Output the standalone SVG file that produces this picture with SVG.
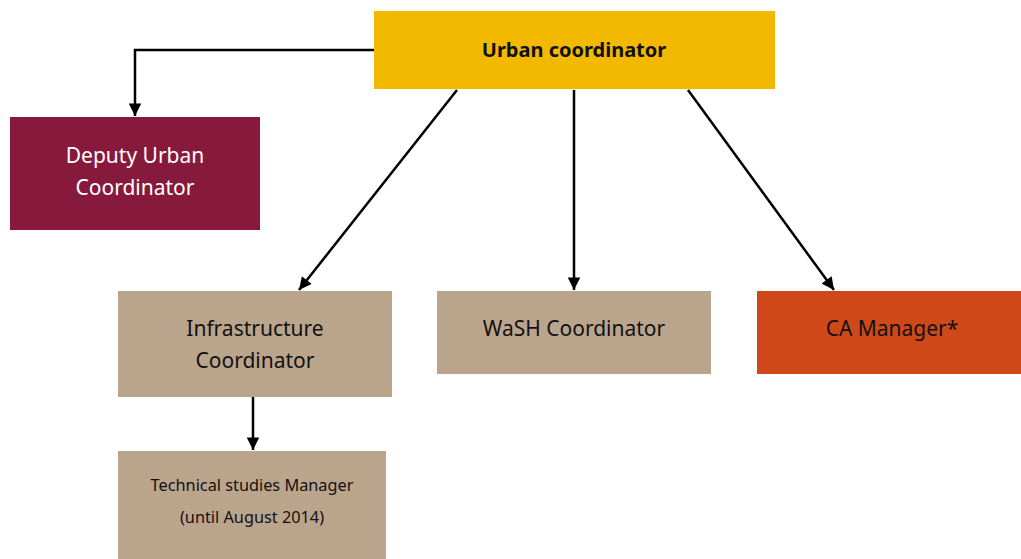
<svg xmlns="http://www.w3.org/2000/svg" width="1021" height="559" viewBox="0 0 1021 559">
<style>
.t{font-family:"Noto Sans","Open Sans","DejaVu Sans",sans-serif;font-size:21px;text-anchor:middle;fill:#111}
.w{fill:#fff}
.b{font-weight:bold;font-size:20px}
.s{font-size:16.3px}
.c{stroke:#000;stroke-width:2.5;fill:none}
</style>
<defs>
<marker id="a" viewBox="0 0 10 10" refX="10" refY="5" markerWidth="5.5" markerHeight="5" markerUnits="strokeWidth" orient="auto">
<path d="M0,0 L10,5 L0,10 Z" fill="#000"/>
</marker>
</defs>
<rect width="1021" height="559" fill="#fff"/>
<g id="connectors">
<path class="c" d="M374,50 H135 V116" marker-end="url(#a)"/>
<path class="c" d="M457,90 L299,290" marker-end="url(#a)"/>
<path class="c" d="M574,90 V290" marker-end="url(#a)"/>
<path class="c" d="M688,90 L834,290" marker-end="url(#a)"/>
<path class="c" d="M253,397 V450" marker-end="url(#a)"/>
</g>
<g id="urban">
<rect x="374" y="11" width="401" height="78" fill="#F2B900"/>
<text class="t b" x="574" y="57">Urban coordinator</text>
</g>
<g id="deputy">
<rect x="10" y="117" width="250" height="113" fill="#87193D"/>
<text class="t w" x="135" y="163">Deputy Urban</text>
<text class="t w" x="135" y="195">Coordinator</text>
</g>
<g id="infra">
<rect x="118" y="291" width="274" height="106" fill="#BBA48C"/>
<text class="t" x="255" y="336">Infrastructure</text>
<text class="t" x="255" y="368">Coordinator</text>
</g>
<g id="wash">
<rect x="437" y="291" width="274" height="83" fill="#BBA48C"/>
<text class="t" x="574" y="336">WaSH Coordinator</text>
</g>
<g id="ca">
<rect x="757" y="291" width="264" height="83" fill="#CF4819"/>
<text class="t" x="892" y="336">CA Manager*</text>
</g>
<g id="tech">
<rect x="118" y="451" width="268" height="108" fill="#BBA48C"/>
<text class="t s" x="252" y="491">Technical studies Manager</text>
<text class="t s" x="252" y="523">(until August 2014)</text>
</g>
</svg>
